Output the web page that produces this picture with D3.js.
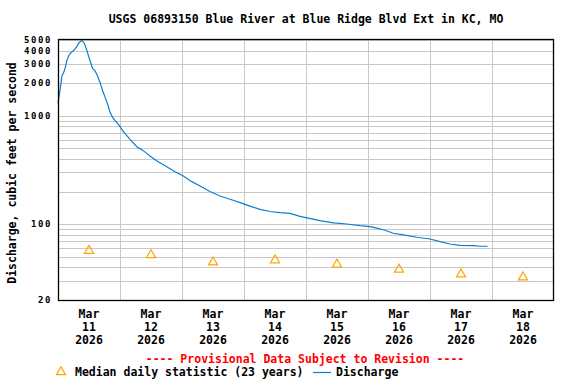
<!DOCTYPE html>
<html>
<head>
<meta charset="utf-8">
<script src="https://cdn.jsdelivr.net/npm/d3@7"></script>
<style>
    html, body { margin: 0; padding: 0; background: #fff; }
    svg text { font-family: 'DejaVu Sans Mono', 'Liberation Mono', monospace; font-weight: bold; font-size: 11.5px; }
    svg text.ytick { font-size: 9px; letter-spacing: 1.6px; }
</style>
</head>
<body>
<div id="chart"></div>
<script>
// hours after Mar 11 2026 00:00 and discharge (ft3/s)
const dischargeHours = [0, 0.6, 1.2, 1.5, 2.3, 2.8, 3.4, 4.1, 5.0, 6.3, 7.2, 8.0, 9.2,
    10.2, 11.1, 11.9, 12.7, 13.4, 14.4, 15.4, 16.3, 17.3, 18.3, 19.2, 20.1, 21.2,
    22.5, 23.7, 25.3, 27.9, 30.5, 33.0, 35.6, 38.8, 42.1, 45.3, 48.5, 51.8, 55.0,
    58.8, 62.7, 66.6, 70.5, 74.3, 78.2, 82.1, 85.9, 89.8, 93.7, 98.2, 101.4, 106.6,
    111.8, 116.9, 120.8, 123.4, 126.6, 129.8, 133.7, 138.9, 144.0, 147.9, 151.7,
    155.6, 160.8, 163.4, 166.3];
const dischargeValues = [1300, 1620, 2020, 2330, 2540, 2780, 3210, 3560, 3820, 4050, 4320, 4670, 4960,
    4670, 4050, 3510, 3050, 2740, 2590, 2300, 2020, 1695, 1470, 1280, 1085, 960,
    877, 815, 714, 607, 519, 477, 426, 377, 339, 305, 279, 247, 225,
    200, 182, 170, 158, 147, 137, 131, 128, 126, 118, 112, 108, 103,
    100.5, 97, 95, 92, 88, 82.5, 79.6, 75.8, 73.1, 69, 65.7,
    63.9, 63.4, 62.6, 62.6];

const days = ['11', '12', '13', '14', '15', '16', '17', '18'];
const medianValues = [57, 52, 44.6, 46.6, 42.5, 38.2, 34.5, 32.4];

const yTickValues = [20, 100, 1000, 2000, 3000, 4000, 5000];
const yGridValues = [30, 40, 50, 60, 70, 80, 90, 100, 200, 300, 400, 500, 600, 700, 800, 900,
    1000, 2000, 3000, 4000, 5000];

const titleText = 'USGS 06893150 Blue River at Blue Ridge Blvd Ext in KC, MO';
const yTitle = 'Discharge, cubic feet per second';

const width = 576;
const height = 384;
const margin = { top: 40, right: 22, bottom: 84, left: 58 };

const start = new Date(2026, 2, 11);
const end = new Date(2026, 2, 19);

const svg = d3.select('#chart')
    .append('svg')
    .attr('width', width)
    .attr('height', height);

const x = d3.scaleTime()
    .domain([start, end])
    .range([margin.left, width - margin.right]);

const y = d3.scaleLog()
    .domain([20, 5000])
    .range([height - margin.bottom, margin.top]);

const crisp = v => Math.round(v) + 0.5;

// grid
const grid = svg.append('g').attr('stroke', '#c8c8c8').attr('stroke-width', 1);

grid.selectAll('line.h')
    .data(yGridValues)
    .join('line')
    .attr('class', 'h')
    .attr('x1', margin.left)
    .attr('x2', width - margin.right)
    .attr('y1', d => crisp(y(d)))
    .attr('y2', d => crisp(y(d)));

grid.selectAll('line.v')
    .data(d3.timeDay.range(d3.timeDay.offset(start, 1), end))
    .join('line')
    .attr('class', 'v')
    .attr('x1', d => crisp(x(d)))
    .attr('x2', d => crisp(x(d)))
    .attr('y1', margin.top)
    .attr('y2', height - margin.bottom);

// discharge line
const discharge = dischargeHours.map((h, i) => ({
    t: new Date(start.getTime() + h * 3600e3),
    v: dischargeValues[i]
}));

svg.append('path')
    .datum(discharge)
    .attr('fill', 'none')
    .attr('stroke', '#0a7fd0')
    .attr('stroke-width', 1.2)
    .attr('d', d3.line().x(d => x(d.t)).y(d => y(d.v)));

// median daily statistic
const noon = days.map(d => new Date(2026, 2, +d, 12));
const tri = d3.symbol().type(d3.symbolTriangle).size(36);

svg.append('g')
    .selectAll('path')
    .data(medianValues)
    .join('path')
    .attr('transform', (d, i) => `translate(${x(noon[i])},${y(d)})`)
    .attr('d', tri)
    .attr('fill', 'none')
    .attr('stroke', '#ffa500')
    .attr('stroke-width', 1.2);

// frame
svg.append('rect')
    .attr('x', margin.left + 0.5)
    .attr('y', margin.top - 0.5)
    .attr('width', width - margin.left - margin.right - 1)
    .attr('height', height - margin.top - margin.bottom + 1)
    .attr('fill', 'none')
    .attr('stroke', '#000')
    .attr('stroke-width', 1.3);

// y tick labels
svg.append('g')
    .selectAll('text')
    .data(yTickValues)
    .join('text')
    .attr('class', 'ytick')
    .attr('x', 52)
    .attr('y', d => y(d))
    .attr('dy', '0.36em')
    .attr('text-anchor', 'end')
    .text(d => d);

// x tick labels
const xLabels = svg.append('g')
    .selectAll('text')
    .data(noon)
    .join('text')
    .attr('text-anchor', 'middle')
    .attr('x', d => x(d));

xLabels.append('tspan').attr('x', d => x(d)).attr('y', 318).text('Mar');
xLabels.append('tspan').attr('x', d => x(d)).attr('y', 331).text(d => d3.timeFormat('%d')(d));
xLabels.append('tspan').attr('x', d => x(d)).attr('y', 344).text(d => d3.timeFormat('%Y')(d));

// titles
svg.append('text')
    .attr('x', 306)
    .attr('y', 23)
    .attr('text-anchor', 'middle')
    .text(titleText);

svg.append('text')
    .attr('transform', 'translate(16,173) rotate(-90)')
    .attr('text-anchor', 'middle')
    .text(yTitle);

svg.append('text')
    .attr('x', 305)
    .attr('y', 363)
    .attr('text-anchor', 'middle')
    .attr('fill', '#ff0000')
    .text('---- Provisional Data Subject to Revision ----');

// legend
const legend = svg.append('g');

legend.append('path')
    .attr('transform', 'translate(61,372)')
    .attr('d', tri)
    .attr('fill', 'none')
    .attr('stroke', '#ffa500')
    .attr('stroke-width', 1.2);

legend.append('text')
    .attr('x', 75)
    .attr('y', 376)
    .text('Median daily statistic (23 years)');

legend.append('line')
    .attr('x1', 313)
    .attr('x2', 331)
    .attr('y1', 372.5)
    .attr('y2', 372.5)
    .attr('stroke', '#0a7fd0')
    .attr('stroke-width', 1.2);

legend.append('text')
    .attr('x', 336)
    .attr('y', 376)
    .text('Discharge');
</script>
</body>
</html>
